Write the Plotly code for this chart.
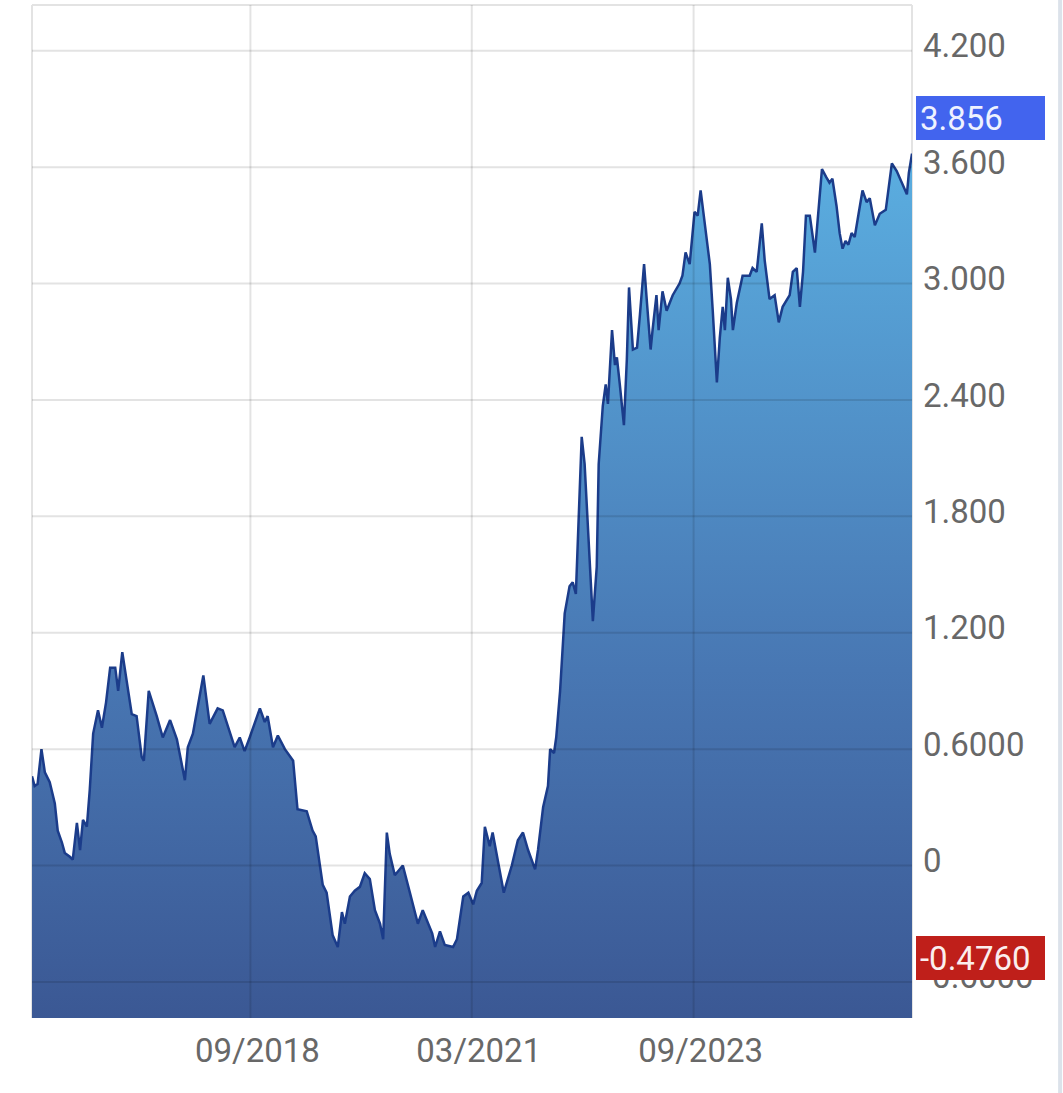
import plotly.graph_objects as go

# ---- data ----
dates = [
    "2016-03-15", "2016-03-26", "2016-04-07", "2016-04-23", "2016-05-07", "2016-05-27", "2016-06-17",
    "2016-06-29", "2016-07-16", "2016-07-28", "2016-08-18", "2016-08-30", "2016-09-16", "2016-09-29",
    "2016-10-11", "2016-10-27", "2016-11-08", "2016-11-22", "2016-12-12", "2016-12-28", "2017-01-14",
    "2017-01-31", "2017-02-21", "2017-03-05", "2017-03-22", "2017-04-09", "2017-04-30", "2017-05-20",
    "2017-06-10", "2017-06-19", "2017-07-09", "2017-08-11", "2017-09-05", "2017-10-05", "2017-11-02",
    "2017-12-05", "2017-12-17", "2018-01-07", "2018-02-19", "2018-03-17", "2018-04-19", "2018-05-10",
    "2018-06-28", "2018-07-19", "2018-08-08", "2018-08-29", "2018-10-10", "2018-10-30", "2018-11-11",
    "2018-12-03", "2018-12-23", "2019-01-21", "2019-02-24", "2019-03-14", "2019-04-21", "2019-05-15",
    "2019-05-28", "2019-06-26", "2019-07-12", "2019-08-06", "2019-08-27", "2019-09-13", "2019-09-25",
    "2019-10-16", "2019-11-05", "2019-11-26", "2019-12-16", "2020-01-06", "2020-01-27", "2020-02-17",
    "2020-03-01", "2020-03-16", "2020-03-28", "2020-04-18", "2020-05-21", "2020-06-19", "2020-07-22",
    "2020-08-11", "2020-09-19", "2020-10-01", "2020-10-21", "2020-11-10", "2020-12-14", "2020-12-30",
    "2021-01-25", "2021-02-15", "2021-03-07", "2021-03-22", "2021-04-11", "2021-04-24", "2021-05-14",
    "2021-05-26", "2021-06-17", "2021-07-11", "2021-08-13", "2021-09-07", "2021-09-28", "2021-10-19",
    "2021-11-17", "2021-11-29", "2021-12-20", "2022-01-09", "2022-01-18", "2022-02-03", "2022-02-12",
    "2022-02-28", "2022-03-19", "2022-04-08", "2022-04-21", "2022-05-04", "2022-05-12", "2022-05-28",
    "2022-06-09", "2022-06-18", "2022-06-26", "2022-07-13", "2022-07-29", "2022-08-06", "2022-08-23",
    "2022-09-04", "2022-09-13", "2022-09-30", "2022-10-12", "2022-10-20", "2022-11-01", "2022-11-18",
    "2022-11-30", "2022-12-09", "2022-12-25", "2023-01-11", "2023-01-23", "2023-02-09", "2023-02-21",
    "2023-03-08", "2023-03-16", "2023-04-01", "2023-04-10", "2023-04-26", "2023-05-13", "2023-06-07",
    "2023-07-05", "2023-07-17", "2023-07-30", "2023-08-16", "2023-09-05", "2023-09-18", "2023-09-30",
    "2023-10-13", "2023-11-07", "2023-11-19", "2023-12-06", "2023-12-18", "2023-12-30", "2024-01-08",
    "2024-01-20", "2024-02-02", "2024-02-10", "2024-02-26", "2024-03-21", "2024-04-19", "2024-05-01",
    "2024-05-18", "2024-06-08", "2024-06-20", "2024-07-10", "2024-07-31", "2024-08-17", "2024-09-02",
    "2024-10-01", "2024-10-14", "2024-10-30", "2024-11-12", "2024-11-25", "2024-12-07", "2024-12-23",
    "2025-01-13", "2025-01-25", "2025-02-11", "2025-02-28", "2025-03-14", "2025-03-26", "2025-04-12",
    "2025-04-25", "2025-05-07", "2025-05-19", "2025-05-31", "2025-06-13", "2025-06-26", "2025-07-08",
    "2025-07-28", "2025-08-14", "2025-08-27", "2025-09-17", "2025-10-07", "2025-11-01", "2025-11-26",
    "2025-12-16", "2026-01-06", "2026-01-27", "2026-02-04", "2026-02-17",
]
values = [
    0.46, 0.41, 0.42, 0.60, 0.48, 0.43, 0.32,
    0.18, 0.12, 0.065, 0.045, 0.03, 0.22, 0.08,
    0.235, 0.20, 0.39, 0.68, 0.80, 0.71, 0.84,
    1.02, 1.02, 0.90, 1.10, 0.94, 0.78, 0.77,
    0.56, 0.54, 0.90, 0.77, 0.66, 0.75, 0.65,
    0.44, 0.61, 0.68, 0.98, 0.73, 0.81, 0.80,
    0.61, 0.66, 0.59, 0.66, 0.81, 0.74, 0.77,
    0.61, 0.67, 0.60, 0.54, 0.29, 0.28, 0.18,
    0.15, -0.10, -0.14, -0.36, -0.42, -0.24, -0.30,
    -0.16, -0.13, -0.11, -0.04, -0.07, -0.23, -0.30,
    -0.38, 0.17, 0.06, -0.05, 0.00, -0.14, -0.30,
    -0.23, -0.35, -0.42, -0.34, -0.41, -0.42, -0.38,
    -0.16, -0.14, -0.20, -0.13, -0.09, 0.20, 0.10,
    0.17, 0.03, -0.14, 0.00, 0.13, 0.17, 0.08,
    -0.02, 0.08, 0.30, 0.41, 0.60, 0.58, 0.66,
    0.90, 1.30, 1.44, 1.46, 1.40, 1.67, 2.21,
    2.07, 1.87, 1.66, 1.26, 1.54, 2.07, 2.37,
    2.48, 2.38, 2.76, 2.58, 2.62, 2.48, 2.27,
    2.61, 2.98, 2.66, 2.67, 2.84, 3.10, 2.90,
    2.66, 2.76, 2.94, 2.76, 2.96, 2.86, 2.94,
    3.00, 3.04, 3.16, 3.10, 3.37, 3.35, 3.48,
    3.35, 3.10, 2.86, 2.49, 2.72, 2.88, 2.76,
    3.03, 2.92, 2.76, 2.90, 3.04, 3.04, 3.08,
    3.06, 3.31, 3.12, 2.92, 2.94, 2.80, 2.88,
    2.94, 3.06, 3.08, 2.88, 3.06, 3.35, 3.35,
    3.16, 3.35, 3.59, 3.55, 3.52, 3.54, 3.40,
    3.26, 3.18, 3.22, 3.20, 3.26, 3.24, 3.33,
    3.48, 3.42, 3.44, 3.30, 3.36, 3.38, 3.62,
    3.58, 3.52, 3.46, 3.57, 3.67,
]

y_tick_vals = [4.2, 3.6, 3.0, 2.4, 1.8, 1.2, 0.6, 0.0, -0.6]
y_tick_text = ["4.200", "3.600", "3.000", "2.400", "1.800", "1.200", "0.6000", "0", "-0.6000"]
x_tick_vals = ["2018-09-01", "2021-03-01", "2023-09-01"]
x_tick_text = ["09/2018", "03/2021", "09/2023"]

high_label = 3.856
low_label = -0.4760

y_range = [-0.786, 4.436]
x_range = ["2016-03-15", "2026-02-17"]

FONT = "Roboto, 'Noto Sans', sans-serif"
GRID = "rgba(0,0,0,0.11)"

fig = go.Figure()

# baseline at the bottom of the plot so the area fills down to the axis floor
fig.add_trace(go.Scatter(
    x=dates, y=[y_range[0]] * len(dates), mode="lines",
    line=dict(width=0, color="rgba(0,0,0,0)"), hoverinfo="skip", showlegend=False,
))
fig.add_trace(go.Scatter(
    x=dates, y=values, mode="lines", fill="tonexty",
    line=dict(color="#1b3c8a", width=2.5),
    fillgradient=dict(
        type="vertical",
        start=y_range[0], stop=3.7,
        colorscale=[[0.0, "#3b5894"], [0.4, "#4877b3"], [1.0, "#5bafe1"]],
    ),
    hoverinfo="skip", showlegend=False,
))

shapes = []
# plot frame (top, left, right), drawn under the area
for x0, y0, x1, y1 in [(0, 1, 1, 1), (0, 0, 0, 1), (1, 0, 1, 1)]:
    shapes.append(dict(type="line", xref="paper", yref="paper", x0=x0, y0=y0, x1=x1, y1=y1,
                       line=dict(color="#e3e3e3", width=2), layer="below"))
# grid lines drawn over the area
for v in y_tick_vals:
    shapes.append(dict(type="line", xref="paper", yref="y", x0=0, x1=1, y0=v, y1=v,
                       line=dict(color=GRID, width=2), layer="above"))
for d in x_tick_vals:
    shapes.append(dict(type="line", xref="x", yref="paper", x0=d, x1=d, y0=0, y1=1,
                       line=dict(color=GRID, width=2), layer="above"))
# light border on the far right edge of the picture
shapes.append(dict(type="line", xref="paper", yref="paper", x0=1.1683, x1=1.1683, y0=-0.2, y1=1.2,
                   line=dict(color="#dce2ea", width=4), layer="above"))

annotations = [
    dict(xref="paper", yref="y", x=1.0045, y=high_label, xanchor="left", yanchor="middle",
         text=f"{high_label:.3f}", showarrow=False, align="left", valign="middle",
         width=121, height=36, borderpad=4, borderwidth=0, bgcolor="#4264ee",
         font=dict(family=FONT, size=33, color="#eef2ff")),
    dict(xref="paper", yref="y", x=1.0045, y=low_label, xanchor="left", yanchor="middle",
         text=f"{low_label:.4f}", showarrow=False, align="left", valign="middle",
         width=121, height=36, borderpad=4, borderwidth=0, bgcolor="#bf1f1a",
         font=dict(family=FONT, size=33, color="#fbeeee")),
]

fig.update_layout(
    width=1063, height=1093,
    margin=dict(l=32, r=151, t=5, b=75),
    paper_bgcolor="white", plot_bgcolor="white",
    showlegend=False,
    shapes=shapes, annotations=annotations,
    xaxis=dict(
        type="date", range=x_range, showgrid=False, zeroline=False, showline=False,
        tickmode="array", tickvals=x_tick_vals, ticktext=x_tick_text, ticks="",
        tickfont=dict(family=FONT, size=33, color="#686868"),
        ticklabelshift=7, ticklabelstandoff=10, fixedrange=True,
    ),
    yaxis=dict(
        side="right", range=y_range, showgrid=False, zeroline=False, showline=False,
        tickmode="array", tickvals=y_tick_vals, ticktext=y_tick_text, ticks="",
        tickfont=dict(family=FONT, size=33, color="#686868"),
        ticklabelshift=-5, ticklabelstandoff=10, fixedrange=True,
    ),
)

fig.write_html("out.html", config={"displayModeBar": False},
               post_script="document.body.style.margin='0';document.body.style.overflow='hidden';")
